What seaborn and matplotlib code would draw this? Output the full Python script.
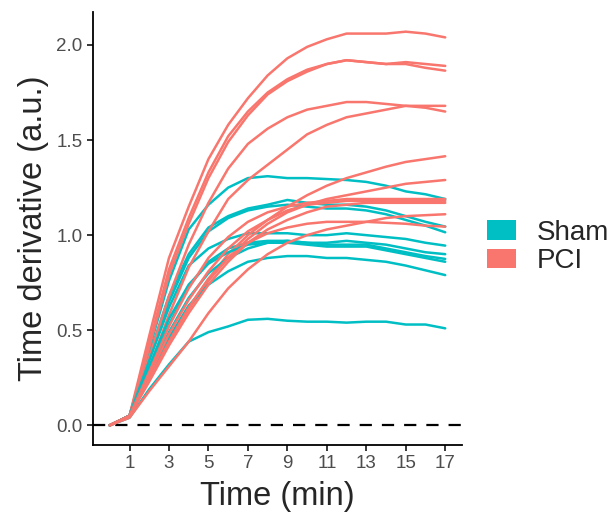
import numpy as np
import pandas as pd
import matplotlib
matplotlib.use("Agg")
import matplotlib.pyplot as plt
from matplotlib.patches import Patch
import seaborn as sns

SHAM_COLOR = "#00BFC4"
PCI_COLOR = "#F8766D"

# time points (min)
time_min = [0, 1, 2, 3, 4, 5, 6, 7, 8, 9, 10, 11, 12, 13, 14, 15, 16, 17]

# Sham animals, time derivative (a.u.)
sham = [
    [0, 0.05, 0.40, 0.76, 1.03, 1.16, 1.25, 1.30, 1.31, 1.30, 1.30, 1.295, 1.29, 1.28, 1.26, 1.23, 1.215, 1.19],
    [0, 0.05, 0.37, 0.68, 0.90, 1.04, 1.10, 1.14, 1.16, 1.185, 1.17, 1.16, 1.16, 1.15, 1.13, 1.10, 1.07, 1.045],
    [0, 0.05, 0.35, 0.65, 0.88, 1.02, 1.09, 1.13, 1.15, 1.16, 1.15, 1.14, 1.14, 1.13, 1.11, 1.08, 1.05, 1.015],
    [0, 0.05, 0.34, 0.62, 0.84, 0.93, 0.98, 1.01, 1.01, 1.01, 1.00, 1.00, 1.01, 1.00, 0.99, 0.98, 0.96, 0.945],
    [0, 0.05, 0.29, 0.53, 0.73, 0.86, 0.93, 0.96, 0.97, 0.97, 0.96, 0.96, 0.97, 0.96, 0.95, 0.93, 0.91, 0.90],
    [0, 0.05, 0.27, 0.49, 0.67, 0.80, 0.88, 0.93, 0.96, 0.97, 0.96, 0.95, 0.95, 0.95, 0.93, 0.91, 0.89, 0.875],
    [0, 0.05, 0.31, 0.56, 0.74, 0.85, 0.91, 0.95, 0.96, 0.96, 0.95, 0.94, 0.94, 0.94, 0.92, 0.90, 0.88, 0.86],
    [0, 0.05, 0.25, 0.46, 0.63, 0.74, 0.81, 0.86, 0.88, 0.89, 0.89, 0.88, 0.88, 0.87, 0.86, 0.84, 0.815, 0.79],
    [0, 0.04, 0.19, 0.32, 0.44, 0.49, 0.52, 0.555, 0.56, 0.55, 0.545, 0.545, 0.54, 0.545, 0.545, 0.53, 0.53, 0.51],
]

# PCI animals
pci = [
    [0, 0.05, 0.47, 0.88, 1.15, 1.40, 1.58, 1.72, 1.84, 1.93, 1.99, 2.03, 2.06, 2.06, 2.06, 2.07, 2.06, 2.04],
    [0, 0.05, 0.43, 0.82, 1.09, 1.33, 1.52, 1.65, 1.75, 1.82, 1.87, 1.90, 1.92, 1.91, 1.90, 1.91, 1.90, 1.89],
    [0, 0.05, 0.41, 0.79, 1.06, 1.30, 1.49, 1.63, 1.74, 1.81, 1.86, 1.90, 1.92, 1.91, 1.90, 1.90, 1.88, 1.865],
    [0, 0.05, 0.36, 0.68, 0.95, 1.17, 1.35, 1.48, 1.56, 1.62, 1.66, 1.68, 1.70, 1.70, 1.69, 1.68, 1.67, 1.65],
    [0, 0.05, 0.30, 0.58, 0.83, 1.02, 1.19, 1.29, 1.37, 1.45, 1.53, 1.58, 1.62, 1.64, 1.66, 1.68, 1.68, 1.68],
    [0, 0.05, 0.25, 0.45, 0.62, 0.77, 0.90, 1.00, 1.08, 1.15, 1.21, 1.26, 1.30, 1.33, 1.36, 1.385, 1.40, 1.415],
    [0, 0.05, 0.24, 0.44, 0.61, 0.76, 0.88, 0.98, 1.06, 1.12, 1.16, 1.19, 1.21, 1.23, 1.25, 1.27, 1.28, 1.29],
    [0, 0.05, 0.28, 0.52, 0.72, 0.88, 0.99, 1.07, 1.12, 1.15, 1.17, 1.18, 1.19, 1.19, 1.19, 1.19, 1.19, 1.19],
    [0, 0.05, 0.26, 0.48, 0.66, 0.81, 0.93, 1.02, 1.08, 1.13, 1.16, 1.17, 1.18, 1.18, 1.18, 1.18, 1.18, 1.18],
    [0, 0.05, 0.23, 0.42, 0.59, 0.74, 0.86, 0.96, 1.03, 1.08, 1.12, 1.15, 1.16, 1.17, 1.17, 1.17, 1.17, 1.17],
    [0, 0.04, 0.18, 0.31, 0.44, 0.59, 0.72, 0.82, 0.90, 0.96, 1.00, 1.03, 1.05, 1.07, 1.09, 1.10, 1.105, 1.11],
    [0, 0.05, 0.24, 0.44, 0.62, 0.77, 0.88, 0.96, 1.01, 1.04, 1.06, 1.07, 1.07, 1.07, 1.065, 1.06, 1.05, 1.045],
]

rows = []
for i, curve in enumerate(sham):
    for t, v in zip(time_min, curve):
        rows.append({"subject": f"S{i}", "group": "Sham", "time": t, "value": v})
for i, curve in enumerate(pci):
    for t, v in zip(time_min, curve):
        rows.append({"subject": f"P{i}", "group": "PCI", "time": t, "value": v})
df = pd.DataFrame(rows)

# interleave draw order of the two groups
order = []
for i in range(max(len(sham), len(pci))):
    if i < len(pci):
        order.append(f"P{i}")
    if i < len(sham):
        order.append(f"S{i}")
palette = {s: (SHAM_COLOR if s.startswith("S") else PCI_COLOR) for s in order}

sns.set_style("white")
plt.rcParams["font.family"] = ["Liberation Sans", "DejaVu Sans"]

fig = plt.figure(figsize=(6.16, 5.18), dpi=100)
ax = fig.add_axes([93 / 616, 1 - 445 / 518, (462 - 93) / 616, (445 - 12) / 518])

ax.axhline(0, color="black", lw=1.6, dashes=(5.5, 4.5), zorder=1)
sns.lineplot(data=df, x="time", y="value", hue="subject", hue_order=order,
             palette=palette, estimator=None, lw=1.8, legend=False, ax=ax, zorder=2)

ax.set_xlim(-0.85, 17.85)
ax.set_ylim(-0.1035, 2.1735)
ax.set_xticks([1, 3, 5, 7, 9, 11, 13, 15, 17])
ax.set_yticks([0.0, 0.5, 1.0, 1.5, 2.0])
ax.set_yticklabels(["0.0", "0.5", "1.0", "1.5", "2.0"])
ax.tick_params(axis="both", labelsize=13.5, labelcolor="#4D4D4D", color="black",
               length=4, width=1.1, direction="out", left=True, bottom=True)
for side in ["top", "right"]:
    ax.spines[side].set_visible(False)
for side in ["left", "bottom"]:
    ax.spines[side].set_color("black")
    ax.spines[side].set_linewidth(1.3)

ax.set_xlabel("Time (min)", fontsize=23.5, labelpad=6)
ax.set_ylabel("Time derivative (a.u.)", fontsize=23.5, labelpad=5)

handles = [Patch(facecolor=SHAM_COLOR, edgecolor="none", label="Sham"),
           Patch(facecolor=PCI_COLOR, edgecolor="none", label="PCI")]
fig.legend(handles=handles, loc="center left", bbox_to_anchor=(487 / 616, 1 - 247 / 518),
           frameon=False, fontsize=20, handlelength=1.05, handleheight=0.7,
           handletextpad=0.75, labelspacing=0.1, borderpad=0, borderaxespad=0)

fig.savefig("out.png", dpi=100, facecolor="white")
